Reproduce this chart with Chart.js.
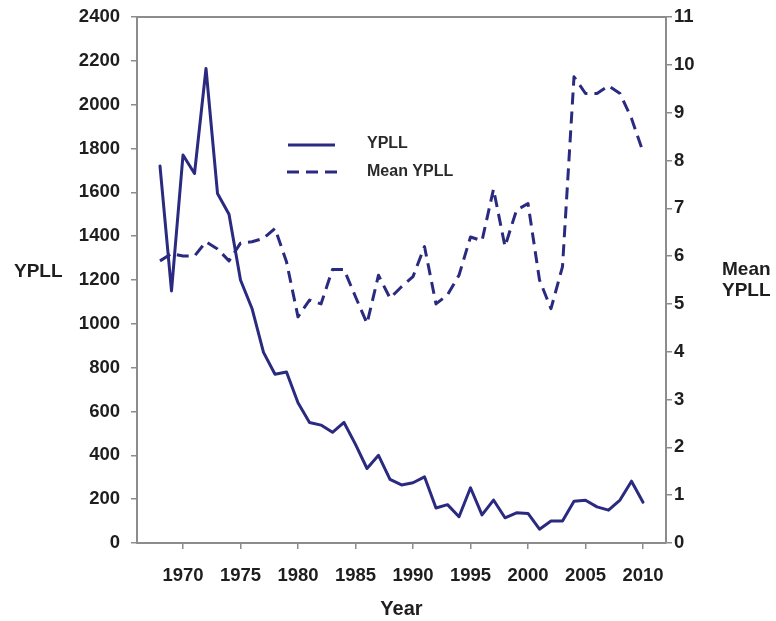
<!DOCTYPE html>
<html>
<head>
<meta charset="utf-8">
<script src="https://cdn.jsdelivr.net/npm/chart.js@4.4.1/dist/chart.umd.min.js"></script>
<style>
  html, body { margin: 0; padding: 0; background: #ffffff; }
  canvas { display: block; }
</style>
</head>
<body>
<canvas id="c" width="776" height="621"></canvas>
<script>
// ---- data ----
const years = [1968,1969,1970,1971,1972,1973,1974,1975,1976,1977,1978,1979,1980,1981,1982,1983,1984,1985,1986,1987,1988,1989,1990,1991,1992,1993,1994,1995,1996,1997,1998,1999,2000,2001,2002,2003,2004,2005,2006,2007,2008,2009,2010];
const ypll = [1720,1150,1770,1686,2165,1595,1500,1200,1070,870,770,780,640,550,538,505,550,450,340,400,290,265,275,302,160,175,120,252,128,196,115,138,135,63,100,100,190,195,165,150,196,282,186];
const meanYpll = [5.9,6.05,6.0,6.0,6.3,6.15,5.9,6.27,6.3,6.37,6.58,5.88,4.73,5.08,5.0,5.72,5.72,5.15,4.59,5.6,5.12,5.36,5.57,6.2,5.0,5.19,5.6,6.4,6.32,7.4,6.2,6.96,7.1,5.5,4.9,5.78,9.75,9.4,9.4,9.56,9.4,8.88,8.18];
const xTickYears = [1970,1975,1980,1985,1990,1995,2000,2005,2010];
const seriesNames = ['YPLL', 'Mean YPLL'];
const xTitle = 'Year';
const leftTitle = ['YPLL'];
const rightTitle = ['Mean', 'YPLL'];

// ---- styles ----
const FONT = '"Liberation Sans", Arial, Helvetica, sans-serif';
const LINE = '#2a2a80';
const AXIS = '#8c8c8c';
const TEXT = '#1e1e1e';
const DASH = [12, 7];

const extras = {
  id: 'extras',
  afterDraw(chart) {
    const {ctx, chartArea: a} = chart;
    ctx.save();
    // top frame line
    ctx.strokeStyle = AXIS;
    ctx.lineWidth = 2;
    ctx.beginPath();
    ctx.moveTo(a.left - 1, a.top);
    ctx.lineTo(a.right + 1, a.top);
    ctx.stroke();

    // axis titles (horizontal)
    ctx.fillStyle = TEXT;
    ctx.font = 'bold 19px ' + FONT;
    ctx.textBaseline = 'middle';
    ctx.textAlign = 'left';
    const mid = (a.top + a.bottom) / 2;
    ctx.fillText(leftTitle[0], 14, mid - 8);
    ctx.fillText(rightTitle[0], a.right + 56, mid - 10);
    ctx.fillText(rightTitle[1], a.right + 56, mid + 11);

    // legend
    const lx = a.left + 151, lx2 = a.left + 198, tx = a.left + 230;
    const ly1 = a.top + 128, ly2 = a.top + 155;
    ctx.strokeStyle = LINE;
    ctx.lineWidth = 3;
    ctx.beginPath(); ctx.moveTo(lx, ly1); ctx.lineTo(lx2, ly1); ctx.stroke();
    ctx.setLineDash(DASH);
    ctx.beginPath(); ctx.moveTo(lx - 1, ly2); ctx.lineTo(lx2 + 9, ly2); ctx.stroke();
    ctx.setLineDash([]);
    ctx.font = 'bold 16px ' + FONT;
    ctx.fillStyle = '#2a2a2a';
    ctx.fillText(seriesNames[0], tx, ly1 - 1);
    ctx.fillText(seriesNames[1], tx, ly2);
    ctx.restore();
  }
};

new Chart(document.getElementById('c'), {
  type: 'line',
  data: {
    datasets: [
      {
        label: seriesNames[0],
        data: years.map((y, i) => ({x: y, y: ypll[i]})),
        yAxisID: 'y',
        borderColor: LINE,
        borderWidth: 3,
        borderJoinStyle: 'round',
        borderCapStyle: 'round',
        pointRadius: 0,
        tension: 0,
        fill: false
      },
      {
        label: seriesNames[1],
        data: years.map((y, i) => ({x: y, y: meanYpll[i]})),
        yAxisID: 'y1',
        borderColor: LINE,
        borderWidth: 3,
        borderDash: DASH,
        borderJoinStyle: 'round',
        pointRadius: 0,
        tension: 0,
        fill: false
      }
    ]
  },
  options: {
    responsive: false,
    animation: false,
    layout: { padding: { top: 17, left: 0, right: 0, bottom: 0 } },
    plugins: { legend: { display: false }, tooltip: { enabled: false } },
    scales: {
      x: {
        type: 'linear',
        position: 'bottom',
        min: 1966,
        max: 2012,
        afterBuildTicks: (s) => { s.ticks = xTickYears.map(v => ({value: v})); },
        afterFit: (s) => { s.height = 78; },
        ticks: {
          callback: (v) => String(v),
          color: TEXT,
          font: { family: FONT, size: 18.5, weight: 'bold' },
          padding: 16,
          maxRotation: 0,
          autoSkip: false
        },
        grid: { display: true, drawOnChartArea: false, drawTicks: true, tickLength: 6, color: AXIS, lineWidth: 1.5 },
        border: { display: true, color: AXIS, width: 2 },
        title: { display: true, text: xTitle, color: TEXT, font: { family: FONT, size: 20, weight: 'bold' }, padding: { top: 0, bottom: 0 } }
      },
      y: {
        type: 'linear',
        position: 'left',
        min: 0,
        max: 2400,
        afterFit: (s) => { s.width = 137; s.paddingTop = 0; s.paddingBottom = 0; },
        ticks: {
          stepSize: 200,
          callback: (v) => String(v),
          color: TEXT,
          font: { family: FONT, size: 18.5, weight: 'bold' },
          padding: 11
        },
        grid: { display: true, drawOnChartArea: false, drawTicks: true, tickLength: 6, color: AXIS, lineWidth: 1.5 },
        border: { display: true, color: AXIS, width: 2 }
      },
      y1: {
        type: 'linear',
        position: 'right',
        min: 0,
        max: 11,
        afterFit: (s) => { s.width = 110; s.paddingTop = 0; s.paddingBottom = 0; },
        ticks: {
          stepSize: 1,
          callback: (v) => String(v),
          color: TEXT,
          font: { family: FONT, size: 18.5, weight: 'bold' },
          padding: 2
        },
        grid: { display: true, drawOnChartArea: false, drawTicks: true, tickLength: 6, color: AXIS, lineWidth: 1.5 },
        border: { display: true, color: AXIS, width: 2 }
      }
    }
  },
  plugins: [extras]
});
</script>
</body>
</html>
